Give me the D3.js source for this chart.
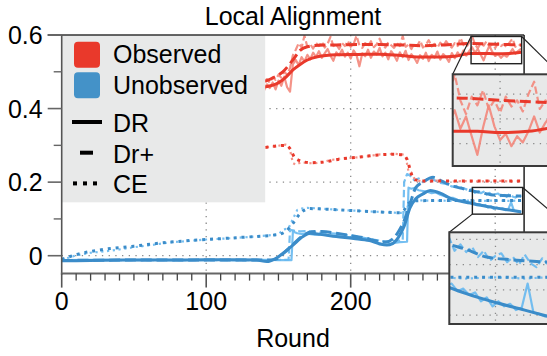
<!DOCTYPE html>
<html>
<head>
<meta charset="utf-8">
<script src="https://cdn.jsdelivr.net/npm/d3@7"></script>
<style>
  html, body { margin: 0; padding: 0; background: #fff; }
  svg { display: block; font-family: "Liberation Sans", Arial, Helvetica, sans-serif; }
</style>
</head>
<body>
<svg id="chart" width="547" height="356"></svg>
<script>
/* ── Data ────────────────────────────────────────────────────────────── */
// Observed, raw per-round values (every 2 rounds, 130..318; earlier part sits under the legend)
const OBS_RAW_ROUNDS = d3.range(130, 319, 2);
const OBS_DR_RAW = [
  0.452, 0.460, 0.447, 0.463, 0.455, 0.449, 0.466, 0.456, 0.471, 0.452,
  0.476, 0.462, 0.487, 0.458, 0.446, 0.521, 0.532, 0.518, 0.540, 0.528,
  0.546, 0.534, 0.552, 0.540, 0.556, 0.538, 0.550, 0.562, 0.544, 0.530,
  0.553, 0.545, 0.560, 0.541, 0.552, 0.536, 0.558, 0.546, 0.515, 0.550,
  0.542, 0.560, 0.538, 0.555, 0.547, 0.565, 0.542, 0.552, 0.534, 0.556,
  0.545, 0.530, 0.553, 0.540, 0.557, 0.532, 0.548, 0.538, 0.524, 0.545,
  0.535, 0.552, 0.529, 0.546, 0.538, 0.555, 0.533, 0.548, 0.540, 0.527,
  0.551, 0.537, 0.553, 0.541, 0.558, 0.544, 0.556, 0.567, 0.552, 0.562,
  0.546, 0.531, 0.553, 0.571, 0.554, 0.543, 0.548, 0.538, 0.546, 0.541,
  0.550, 0.562, 0.549, 0.557, 0.563
];
const OBS_DRP_RAW = [
  0.466, 0.470, 0.462, 0.475, 0.468, 0.472, 0.480, 0.470, 0.485, 0.478,
  0.492, 0.484, 0.500, 0.492, 0.510, 0.545, 0.560, 0.578, 0.566, 0.598,
  0.568, 0.575, 0.563, 0.578, 0.570, 0.582, 0.566, 0.576, 0.595, 0.570,
  0.574, 0.562, 0.578, 0.570, 0.584, 0.568, 0.575, 0.598, 0.572, 0.565,
  0.578, 0.570, 0.583, 0.567, 0.575, 0.590, 0.571, 0.566, 0.580, 0.572,
  0.565, 0.578, 0.570, 0.597, 0.568, 0.574, 0.562, 0.577, 0.570, 0.585,
  0.566, 0.573, 0.586, 0.569, 0.576, 0.565, 0.579, 0.570, 0.583, 0.572,
  0.566, 0.578, 0.570, 0.592, 0.573, 0.567, 0.579, 0.596, 0.575, 0.564,
  0.578, 0.571, 0.583, 0.568, 0.575, 0.565, 0.578, 0.570, 0.575, 0.566,
  0.580, 0.590, 0.568, 0.575, 0.571
];
const OBS_CE_RAW_ROUNDS = [130, 135, 140, 145, 150, 155, 157, 158, 160, 162, 166, 170, 175, 180, 186, 193, 200, 206, 213, 219,
  225, 230, 236, 238, 240, 242, 244, 247, 250, 260, 270, 280, 290, 300, 310, 318];
const OBS_CE_RAW = [0.291, 0.293, 0.295, 0.296, 0.299, 0.302, 0.300, 0.288, 0.252, 0.247, 0.255, 0.252, 0.251, 0.254, 0.260, 0.264, 0.266, 0.268, 0.271, 0.275,
  0.276, 0.277, 0.275, 0.272, 0.228, 0.226, 0.210, 0.204, 0.202, 0.204, 0.202, 0.203, 0.202, 0.204, 0.202, 0.203];

// Observed, smoothed
const OBS_DR_ROUNDS = [130, 140, 150, 155, 160, 165, 170, 177, 190, 205, 220, 235, 250, 262, 272, 283, 292, 300, 310, 318];
const OBS_DR = [0.452, 0.458, 0.470, 0.485, 0.505, 0.520, 0.532, 0.541, 0.546, 0.547, 0.548, 0.544, 0.540, 0.540, 0.542, 0.550, 0.550, 0.549, 0.550, 0.553];
const OBS_DRP_ROUNDS = [130, 140, 147, 153, 160, 165, 170, 178, 190, 205, 220, 235, 250, 265, 283, 300, 318];
const OBS_DRP = [0.465, 0.473, 0.485, 0.500, 0.532, 0.558, 0.568, 0.572, 0.573, 0.574, 0.574, 0.573, 0.571, 0.573, 0.577, 0.575, 0.573];
const OBS_CE_ROUNDS = [130, 140, 150, 155, 158, 161, 165, 172, 180, 193, 206, 219, 230, 236, 239, 242, 245, 250, 280, 318];
const OBS_CE = [0.292, 0.294, 0.299, 0.300, 0.291, 0.268, 0.258, 0.253, 0.254, 0.263, 0.268, 0.274, 0.276, 0.274, 0.262, 0.222, 0.206, 0.203, 0.203, 0.203];

// Unobserved, raw
const UNO_DR_RAW_ROUNDS = [0, 20, 40, 60, 80, 100, 120, 140, 150, 159, 160, 163, 166, 170, 175, 180, 185, 190, 195, 200,
  205, 210, 215, 220, 223, 226, 230, 234, 239, 240, 242, 244, 247, 250, 253, 256, 259, 262, 265, 268,
  271, 274, 277, 280, 283, 285, 287, 289, 291, 293, 295, 297, 299, 301, 303, 305, 307, 309, 311, 313, 315, 317, 318];
const UNO_DR_RAW = [-0.012, -0.011, -0.012, -0.011, -0.012, -0.011, -0.012, -0.011, -0.012, -0.012, 0.066, 0.061, 0.059, 0.060, 0.057, 0.058, 0.055, 0.054, 0.052, 0.050,
  0.048, 0.045, 0.041, 0.034, 0.030, 0.031, 0.035, 0.037, 0.038, 0.185, 0.182, 0.184, 0.178, 0.176, 0.174, 0.170, 0.172, 0.166, 0.162, 0.158,
  0.157, 0.152, 0.150, 0.148, 0.143, 0.145, 0.139, 0.141, 0.136, 0.138, 0.131, 0.134, 0.127, 0.131, 0.127, 0.129, 0.124, 0.126, 0.145, 0.122, 0.121, 0.119, 0.120];
const UNO_DRP_RAW_ROUNDS = [0, 40, 80, 120, 140, 157, 158, 161, 165, 170, 175, 180, 190, 200, 210, 220, 225, 230, 236, 237,
  239, 241, 244, 247, 250, 254, 258, 262, 266, 270, 274, 278, 282, 284, 286, 288, 290, 292, 294, 296,
  298, 300, 302, 304, 306, 308, 310, 312, 314, 316, 318];
const UNO_DRP_RAW = [-0.013, -0.012, -0.012, -0.012, -0.012, -0.011, 0.070, 0.068, 0.066, 0.067, 0.064, 0.062, 0.060, 0.055, 0.048, 0.041, 0.038, 0.040, 0.042, 0.200,
  0.222, 0.218, 0.205, 0.210, 0.200, 0.212, 0.205, 0.198, 0.195, 0.188, 0.190, 0.183, 0.178, 0.182, 0.171, 0.176, 0.170, 0.174, 0.166, 0.171,
  0.163, 0.167, 0.169, 0.162, 0.166, 0.160, 0.168, 0.161, 0.158, 0.165, 0.160];
const UNO_CE_RAW_ROUNDS = [0, 5, 10, 20, 30, 40, 50, 60, 75, 90, 100, 115, 130, 145, 150, 153, 157, 160, 163, 166,
  170, 180, 190, 200, 210, 220, 230, 238, 240, 243, 250, 260, 270, 280, 290, 300, 310, 318];
const UNO_CE_RAW = [-0.012, -0.005, 0.001, 0.008, 0.012, 0.017, 0.023, 0.028, 0.036, 0.041, 0.044, 0.047, 0.051, 0.056, 0.058, 0.070, 0.075, 0.100, 0.124, 0.128,
  0.130, 0.128, 0.125, 0.123, 0.121, 0.119, 0.117, 0.116, 0.140, 0.152, 0.150, 0.150, 0.149, 0.150, 0.149, 0.150, 0.149, 0.150];

// Unobserved, smoothed
const UNO_DR_ROUNDS = [0, 20, 40, 60, 80, 100, 120, 135, 142, 148, 153, 160, 167, 172, 179, 190, 202, 213, 220, 225,
  229, 233, 237, 241, 245, 250, 255, 262, 269, 283, 290, 300, 310, 318];
const UNO_DR = [-0.014, -0.013, -0.012, -0.012, -0.012, -0.011, -0.011, -0.012, -0.016, -0.008, 0.006, 0.029, 0.052, 0.061, 0.058, 0.052, 0.047, 0.041, 0.032, 0.029,
  0.033, 0.050, 0.080, 0.130, 0.155, 0.168, 0.177, 0.170, 0.156, 0.143, 0.137, 0.130, 0.124, 0.119];
const UNO_DRP_ROUNDS = [0, 40, 80, 120, 140, 148, 153, 160, 167, 173, 180, 190, 200, 210, 218, 224, 229, 233, 237, 241,
  245, 250, 257, 263, 270, 277, 283, 290, 297, 305, 318];
const UNO_DRP = [-0.013, -0.012, -0.012, -0.012, -0.012, -0.010, 0.005, 0.030, 0.055, 0.065, 0.066, 0.061, 0.055, 0.048, 0.040, 0.037, 0.045, 0.065, 0.095, 0.140,
  0.185, 0.200, 0.213, 0.203, 0.190, 0.183, 0.177, 0.172, 0.166, 0.164, 0.162];
const UNO_CE_ROUNDS = [0, 10, 26, 50, 75, 100, 125, 150, 155, 160, 164, 168, 172, 180, 200, 220, 234, 237, 240, 244, 260, 283, 318];
const UNO_CE = [-0.010, 0.003, 0.0155, 0.026, 0.037, 0.044, 0.050, 0.058, 0.066, 0.088, 0.110, 0.124, 0.128, 0.127, 0.123, 0.119, 0.117, 0.124, 0.142, 0.149, 0.150, 0.150, 0.150];

const X_TICKS = [0, 100, 200, 300];
const Y_TICKS = [0, 0.2, 0.4, 0.6];
const Y_MINOR = [0.1, 0.3, 0.5];
const LEGEND_GROUPS = ['Observed', 'Unobserved'];
const LEGEND_METHODS = ['DR', 'Dr+', 'CE'];

/* ── Styles ──────────────────────────────────────────────────────────── */
const RED = '#e9392b', RED_L = '#f3877b';
const BLUE = '#3b8cc9', BLUE_L = '#66b8ef';
const PANEL = '#e8e9e9';
const FONT = 25;

const DASH_S = '11,4.8', DASH_R = '7.4,3.2';
const DOT_S = '3,4.9', DOT_R = '2.2,3.6';

// raw first, smoothed on top
const SERIES = [
  { r: UNO_CE_RAW_ROUNDS,  v: UNO_CE_RAW,  c: BLUE_L, w: 2.2, dash: DOT_R,  smooth: false },
  { r: UNO_DRP_RAW_ROUNDS, v: UNO_DRP_RAW, c: BLUE_L, w: 2.2, dash: DASH_R, smooth: false },
  { r: UNO_DR_RAW_ROUNDS,  v: UNO_DR_RAW,  c: BLUE_L, w: 2.2, dash: null,   smooth: false },
  { r: OBS_CE_RAW_ROUNDS,  v: OBS_CE_RAW,  c: RED_L,  w: 2.2, dash: DOT_R,  smooth: false },
  { r: OBS_RAW_ROUNDS,     v: OBS_DRP_RAW, c: RED_L,  w: 2.2, dash: DASH_R, smooth: false },
  { r: OBS_RAW_ROUNDS,     v: OBS_DR_RAW,  c: RED_L,  w: 2.2, dash: null,   smooth: false },
  { r: UNO_CE_ROUNDS,  v: UNO_CE,  c: BLUE, w: 3, dash: DOT_S,  smooth: true },
  { r: UNO_DRP_ROUNDS, v: UNO_DRP, c: BLUE, w: 3, dash: DASH_S, smooth: true },
  { r: UNO_DR_ROUNDS,  v: UNO_DR,  c: BLUE, w: 3, dash: null,   smooth: true },
  { r: OBS_CE_ROUNDS,  v: OBS_CE,  c: RED,  w: 3, dash: DOT_S,  smooth: true },
  { r: OBS_DRP_ROUNDS, v: OBS_DRP, c: RED,  w: 3, dash: DASH_S, smooth: true },
  { r: OBS_DR_ROUNDS,  v: OBS_DR,  c: RED,  w: 3, dash: null,   smooth: true },
];

/* ── Scales ──────────────────────────────────────────────────────────── */
const svg = d3.select('#chart');
const x = d3.scaleLinear().domain([0, 320]).range([61.7, 524.1]);
const y = d3.scaleLinear().domain([-0.05, 0.6]).range([274.1, 35]);

const defs = svg.append('defs');

function clip(id, x0, y0, w, h) {
  defs.append('clipPath').attr('id', id)
    .append('rect').attr('x', x0).attr('y', y0).attr('width', w).attr('height', h);
  return `url(#${id})`;
}

function drawGrid(g, xs, ys, xt, yt) {
  const [x0, x1] = xs.range(), [y1, y0] = ys.range();
  xt.forEach(t => g.append('line')
    .attr('x1', xs(t)).attr('x2', xs(t)).attr('y1', y0).attr('y2', y1)
    .attr('stroke', '#8a8a8a').attr('stroke-width', 1.3).attr('stroke-dasharray', '1.3,5.4'));
  yt.forEach(t => g.append('line')
    .attr('x1', x0).attr('x2', x1).attr('y1', ys(t)).attr('y2', ys(t))
    .attr('stroke', '#8a8a8a').attr('stroke-width', 1.3).attr('stroke-dasharray', '1.3,5.4'));
}

function drawSeries(g, xs, ys) {
  SERIES.forEach(s => {
    const line = d3.line()
      .x(d => xs(d[0])).y(d => ys(d[1]))
      .curve(s.smooth ? d3.curveMonotoneX : d3.curveLinear);
    g.append('path')
      .datum(d3.zip(s.r, s.v))
      .attr('d', line)
      .attr('fill', 'none')
      .attr('stroke', s.c)
      .attr('stroke-width', s.w)
      .attr('stroke-dasharray', s.dash)
      .attr('stroke-linejoin', 'round')
      .attr('opacity', s.smooth ? 1 : 0.9);
  });
}

/* ── Main plot ───────────────────────────────────────────────────────── */
const [PX0, PX1] = x.range(), [PY1, PY0] = y.range();

drawGrid(svg.append('g'), x, y, [100, 200, 300], [0, 0.2, 0.4]);

const plotG = svg.append('g').attr('clip-path', clip('clip-main', PX0, PY0, PX1 - PX0, PY1 - PY0));
drawSeries(plotG, x, y);

/* ── Legend ──────────────────────────────────────────────────────────── */
const leg = svg.append('g');
leg.append('rect').attr('x', PX0).attr('y', PY0).attr('width', 203.5).attr('height', 167.3).attr('fill', PANEL);
[RED, '#4492c8'].forEach((c, i) => {
  leg.append('rect').attr('x', 74).attr('y', 41.7 + i * 30.5).attr('width', 26).attr('height', 26)
    .attr('rx', 4).attr('fill', c);
  leg.append('text').attr('x', 113).attr('y', 63 + i * 30.7).attr('font-size', FONT).text(LEGEND_GROUPS[i]);
});
LEGEND_METHODS.forEach((m, i) => {
  const yy = 122 + i * 30.7;
  if (i === 0) leg.append('line').attr('x1', 72).attr('x2', 102).attr('y1', yy).attr('y2', yy)
    .attr('stroke', '#000').attr('stroke-width', 4);
  if (i === 1) leg.append('line').attr('x1', 80).attr('x2', 93).attr('y1', yy).attr('y2', yy)
    .attr('stroke', '#000').attr('stroke-width', 4);
  if (i === 2) [75, 85, 95].forEach(cx => leg.append('rect')
    .attr('x', cx - 2).attr('y', yy - 2).attr('width', 4).attr('height', 4).attr('fill', '#000'));
  leg.append('text').attr('x', 113).attr('y', yy + 10).attr('font-size', FONT).text(m);
});

/* ── Axes ────────────────────────────────────────────────────────────── */
const ax = svg.append('g');
// spines
ax.append('line').attr('x1', PX0 - 14).attr('x2', PX1).attr('y1', PY0).attr('y2', PY0)
  .attr('stroke', '#333').attr('stroke-width', 1.5);
ax.append('line').attr('x1', PX1).attr('x2', PX1).attr('y1', PY0).attr('y2', PY1)
  .attr('stroke', '#222').attr('stroke-width', 1.5);
ax.append('line').attr('x1', PX0).attr('x2', PX0).attr('y1', PY0).attr('y2', PY1 + 0.5)
  .attr('stroke', '#555').attr('stroke-width', 1.6);
ax.append('line').attr('x1', PX0 - 0.8).attr('x2', PX1).attr('y1', PY1 - 0.5).attr('y2', PY1 - 0.5)
  .attr('stroke', '#666').attr('stroke-width', 2);

// x ticks
d3.range(0, 321, 10).forEach(t => {
  const major = t % 100 === 0;
  ax.append('line').attr('x1', x(t)).attr('x2', x(t))
    .attr('y1', PY1 - 0.5).attr('y2', PY1 - 0.5 + (major ? 14 : 7))
    .attr('stroke', major ? '#555' : '#444').attr('stroke-width', major ? 1.6 : 1.3);
});
X_TICKS.forEach(t => ax.append('text')
  .attr('x', x(t)).attr('y', 309.5).attr('text-anchor', 'middle').attr('font-size', FONT).text(t));

// y ticks
Y_TICKS.forEach(t => {
  ax.append('line').attr('x1', PX0 - 14).attr('x2', PX0).attr('y1', y(t)).attr('y2', y(t))
    .attr('stroke', '#666').attr('stroke-width', 1.6);
  ax.append('text').attr('x', 42.7).attr('y', y(t) + 9).attr('text-anchor', 'end')
    .attr('font-size', FONT).text(t === 0 ? '0' : t.toFixed(1));
});
Y_MINOR.forEach(t => ax.append('line').attr('x1', PX0 - 8).attr('x2', PX0).attr('y1', y(t)).attr('y2', y(t))
  .attr('stroke', '#666').attr('stroke-width', 1.4));

svg.append('text').attr('x', 293).attr('y', 25).attr('text-anchor', 'middle')
  .attr('font-size', FONT).text('Local Alignment');
svg.append('text').attr('x', 293).attr('y', 347).attr('text-anchor', 'middle')
  .attr('font-size', FONT).text('Round');

/* ── Zoomed insets ───────────────────────────────────────────────────── */
const INSETS = [
  { id: 'in-obs', xd: [283.3, 318.3], yd: [0.522, 0.596], box: [452.7, 74.3, 552, 166],
    from: [[0, 1], [1, 1]], to: [[452.7, 74.3], [560, 74.3]], yt: [0.54, 0.56, 0.58] },
  { id: 'in-uno', xd: [284.2, 319.0], yd: [0.113, 0.1856], box: [449.3, 232.3, 551, 324],
    from: [[0, 0], [1, 1]], to: [[449.3, 232.3], [575, 232.3]], yt: [0.12, 0.14, 0.16, 0.18] },
];

INSETS.forEach(ins => {
  const [bx0, by0, bx1, by1] = ins.box;
  const rx0 = x(ins.xd[0]), rx1 = x(ins.xd[1]);
  const ry0 = y(ins.yd[1]), ry1 = y(ins.yd[0]);

  // marked region on the main axes
  svg.append('rect').attr('x', rx0).attr('y', ry0).attr('width', rx1 - rx0).attr('height', ry1 - ry0)
    .attr('fill', 'none').attr('stroke', '#222').attr('stroke-width', 1.4);

  // connectors (corner of marked region -> corner of inset)
  ins.from.forEach(([fx, fy], i) => {
    const sx = fx ? rx1 : rx0, sy = fy ? ry0 : ry1;
    svg.append('line').attr('x1', sx).attr('y1', sy).attr('x2', ins.to[i][0]).attr('y2', ins.to[i][1])
      .attr('stroke', '#222').attr('stroke-width', 1.2);
  });

  const xs = d3.scaleLinear().domain(ins.xd).range([bx0, bx1]);
  const ys = d3.scaleLinear().domain(ins.yd).range([by1, by0]);
  const g = svg.append('g');
  g.append('rect').attr('x', bx0).attr('y', by0).attr('width', bx1 - bx0).attr('height', by1 - by0)
    .attr('fill', PANEL);
  const inner = g.append('g').attr('clip-path', clip(ins.id, bx0, by0, bx1 - bx0, by1 - by0));
  drawGrid(inner, xs, ys, [300], ins.yt);
  drawSeries(inner, xs, ys);
  g.append('rect').attr('x', bx0).attr('y', by0).attr('width', bx1 - bx0).attr('height', by1 - by0)
    .attr('fill', 'none').attr('stroke', '#3a3a3a').attr('stroke-width', 2);
});
</script>
</body>
</html>
